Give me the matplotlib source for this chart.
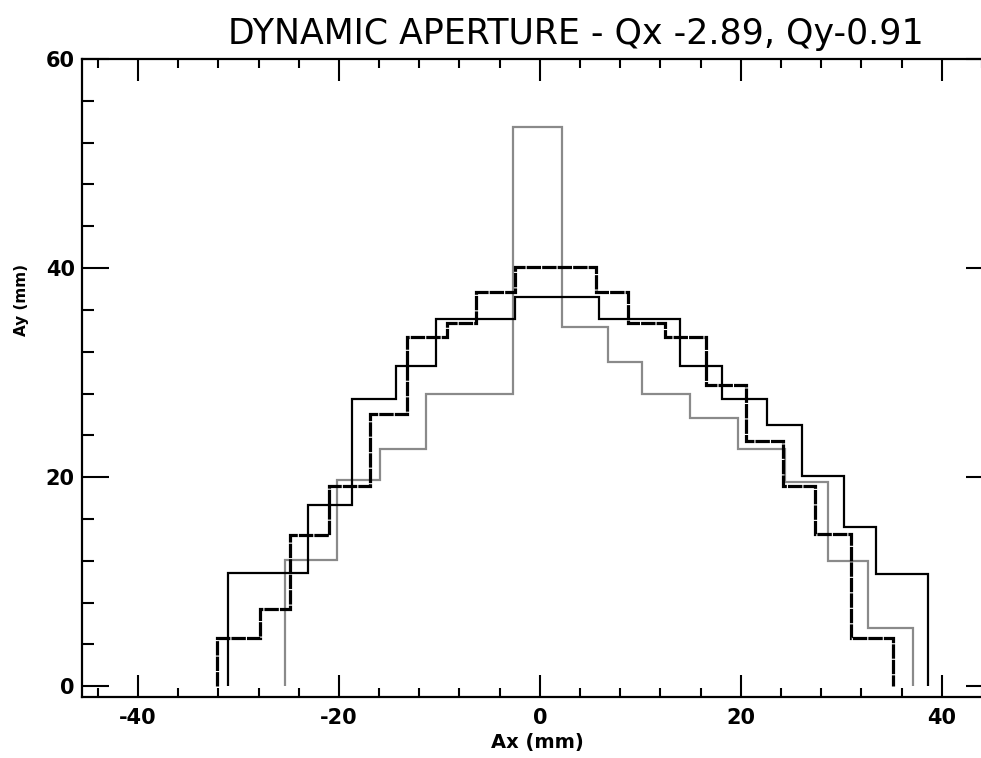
import matplotlib
matplotlib.use("Agg")
import matplotlib.pyplot as plt
from matplotlib.ticker import MultipleLocator

plt.rcParams["axes.unicode_minus"] = False

# Step-curve data (bin edges in Ax [mm], levels in Ay [mm])
black_edges = [-31.0, -23.1, -18.7, -14.3, -10.3, -2.5, 5.9, 13.9, 18.1, 22.6, 26.1, 30.3, 33.5, 38.6]
black_levels = [10.8, 17.3, 27.5, 30.6, 35.1, 37.2, 35.1, 30.6, 27.5, 25.0, 20.1, 15.2, 10.7]

dashed_edges = [-32.1, -27.9, -24.9, -21.0, -16.9, -13.2, -9.2, -6.4, -2.5,
                5.6, 8.8, 12.5, 16.5, 20.5, 24.2, 27.4, 31.0, 35.1]
dashed_levels = [4.6, 7.4, 14.5, 19.2, 26.0, 33.4, 34.7, 37.7, 40.1,
                 37.7, 34.7, 33.4, 28.8, 23.5, 19.2, 14.6, 4.6]

gray_edges = [-25.4, -20.2, -15.9, -11.3, -2.7, 2.2, 6.8, 10.2, 14.9, 19.7, 24.4, 28.7, 32.7, 37.1]
gray_levels = [12.1, 19.7, 22.7, 28.0, 53.5, 34.4, 31.0, 28.0, 25.7, 22.7, 19.5, 12.0, 5.6]

x_ticks = [-40, -20, 0, 20, 40]
y_ticks = [0, 20, 40, 60]

title = "DYNAMIC APERTURE - Qx -2.89, Qy-0.91"
xlabel = "Ax (mm)"
ylabel = "Ay (mm)"

W, H = 981, 758
fig = plt.figure(figsize=(W / 100, H / 100), dpi=100)
ax = fig.add_axes([81.7 / W, 1 - 696.7 / H, (993 - 81.7) / W, (696.7 - 59) / H])

ax.stairs(gray_levels, gray_edges, baseline=0, fill=False, color="#8a8a8a", linewidth=1.6)
ax.stairs(black_levels, black_edges, baseline=0, fill=False, color="black", linewidth=1.6)
ax.stairs(dashed_levels, dashed_edges, baseline=0, fill=False, color="black",
          linewidth=2.3, linestyle=(0, (4.5, 0.35)))

ax.set_xlim(-45.6, 45.1)
ax.set_ylim(-1.0, 59.9)

ax.set_xticks(x_ticks)
ax.set_yticks(y_ticks)
ax.xaxis.set_minor_locator(MultipleLocator(4))
ax.yaxis.set_minor_locator(MultipleLocator(4))

ax.tick_params(axis="x", which="major", direction="in", length=16, width=1.5,
               top=True, bottom=True, pad=8, labelsize=15)
ax.tick_params(axis="x", which="minor", direction="in", length=6.5, width=1.5,
               top=True, bottom=True)
ax.tick_params(axis="y", which="major", direction="in", length=19.5, width=1.5,
               left=True, right=True, pad=5, labelsize=15)
ax.tick_params(axis="y", which="minor", direction="in", length=8.5, width=1.5,
               left=True, right=True)
for lab in ax.get_xticklabels() + ax.get_yticklabels():
    lab.set_fontweight("bold")

for sp in ax.spines.values():
    sp.set_linewidth(1.6)

ax.set_xlabel(xlabel, fontsize=14, fontweight="bold", labelpad=4)
ax.set_ylabel(ylabel, fontsize=11, fontweight="bold")
ax.yaxis.set_label_coords(-0.058, 0.622)

fig.text(576 / W, 1 - 34 / H, title, ha="center", va="center", fontsize=25)

fig.savefig("out.png", dpi=100)
